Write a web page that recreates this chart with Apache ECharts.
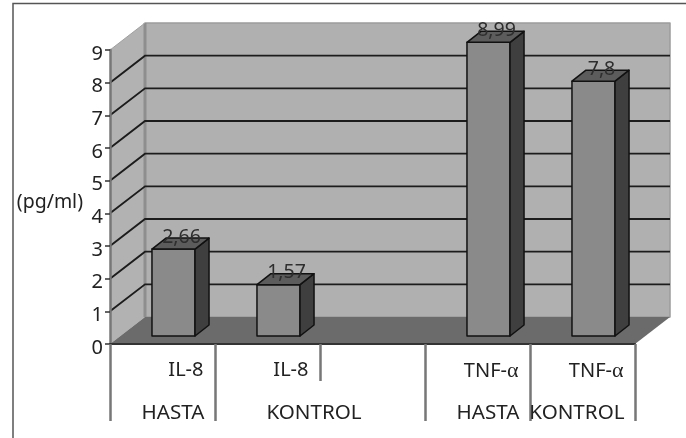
<!DOCTYPE html>
<html>
<head>
<meta charset="utf-8">
<style>
  html, body { margin: 0; padding: 0; background: #fff; }
  #main { width: 686px; height: 438px; }
</style>
<script src="https://cdn.jsdelivr.net/npm/echarts@6/dist/echarts.min.js"></script>
</head>
<body>
<div id="main"></div>
<script>
// chart data
var markers = ['IL-8', 'IL-8', '', 'TNF-α', 'TNF-α'];
var groups = ['HASTA', 'KONTROL', '', 'HASTA', 'KONTROL'];
var values = [2.66, 1.57, null, 8.99, 7.8];
var yTicks = [1, 2, 3, 4, 5, 6, 7, 8];

var FONT = '"Noto Sans"';
var TEXT = '#222';
// fake 3d depth of the walls and of the bars
var WALL = [35, -27];
var BAR = [14, -11];
var BAR_SHIFT = [11, -8];

var myChart = echarts.init(document.getElementById('main'));

function poly(points, fill, stroke, lineWidth) {
    return {
        type: 'polygon',
        shape: { points: points },
        style: { fill: fill, stroke: stroke || null, lineWidth: lineWidth || 0, lineJoin: 'round' }
    };
}

function renderWalls(params, api) {
    var cs = params.coordSys;
    var l = cs.x, t = cs.y, r = cs.x + cs.width, b = cs.y + cs.height;
    var dx = WALL[0], dy = WALL[1];
    return {
        type: 'group',
        children: [
            poly([[l + dx, t + dy], [r + dx, t + dy], [r + dx, b + dy], [l + dx, b + dy]], '#b0b0b0', '#9c9c9c', 1.5),
            poly([[l, t], [l + dx, t + dy], [l + dx, b + dy], [l, b]], '#b2b2b2'),
            { type: 'line', shape: { x1: l + dx, y1: t + dy, x2: l + dx, y2: b + dy }, style: { stroke: '#8e8e8e', lineWidth: 3 } },
            { type: 'line', shape: { x1: l, y1: t, x2: l + dx, y2: t + dy }, style: { stroke: '#a0a0a0', lineWidth: 1 } },
            poly([[l, b], [l + dx, b + dy], [r + dx, b + dy], [r, b]], '#6b6b6b')
        ]
    };
}

function renderGridLine(params, api) {
    var cs = params.coordSys;
    var y = api.coord([0, api.value(0)])[1];
    var l = cs.x, r = cs.x + cs.width;
    return {
        type: 'polyline',
        shape: { points: [[l, y], [l + WALL[0], y + WALL[1]], [r + WALL[0], y + WALL[1]]] },
        style: { fill: null, stroke: '#1c1c1c', lineWidth: 1.9 }
    };
}

function renderBar(params, api) {
    var v = api.value(1);
    if (isNaN(v)) return;
    var top = api.coord([api.value(0), v]);
    var base = api.coord([api.value(0), 0]);
    var halfW = api.size([1, 0])[0] * 0.205;
    var x1 = top[0] + BAR_SHIFT[0] - halfW, x2 = top[0] + BAR_SHIFT[0] + halfW;
    var y1 = top[1] + BAR_SHIFT[1], y2 = base[1] + BAR_SHIFT[1];
    var dx = BAR[0], dy = BAR[1];
    var edge = '#111';
    return {
        type: 'group',
        children: [
            poly([[x1, y1], [x2, y1], [x2, y2], [x1, y2]], '#8a8a8a', edge, 1.5),
            poly([[x2, y1], [x2 + dx, y1 + dy], [x2 + dx, y2 + dy], [x2, y2]], '#3f3f3f', edge, 1.5),
            poly([[x1, y1], [x1 + dx, y1 + dy], [x2 + dx, y1 + dy], [x2, y1]], '#5c5c5c', edge, 1.5),
            {
                type: 'text',
                style: {
                    text: String(v).replace('.', ','),
                    x: (x1 + x2) / 2 + dx / 2 + 1,
                    y: y1 + dy - 1,
                    align: 'center',
                    verticalAlign: 'middle',
                    font: '19.5px ' + FONT,
                    fill: '#2e2e2e'
                }
            }
        ]
    };
}

var labelBase = {
    interval: 0,
    hideOverlap: false,
    align: 'right',
    fontFamily: FONT,
    fontSize: 20,
    color: TEXT
};

myChart.setOption({
    backgroundColor: '#fff',
    animation: false,
    graphic: [
        { type: 'polyline', z: 100, shape: { points: [[13, 438], [13, 3.5], [686, 3.5]] }, style: { fill: null, stroke: '#555', lineWidth: 1.5 } }
    ],
    grid: { left: 110, right: 51, top: 50, bottom: 94 },
    xAxis: [
        {
            type: 'category',
            data: markers,
            z: 6,
            axisLine: { show: true, lineStyle: { color: '#333', width: 2 } },
            axisTick: { show: true, length: 37, lineStyle: { color: '#777', width: 2.5 } },
            axisLabel: Object.assign({}, labelBase, {
                margin: 16,
                padding: [0, -41, 0, 0],
                formatter: function (t) { return t.replace('α', '{g|α}'); },
                rich: { g: { fontFamily: '"Liberation Serif"', fontSize: 22, color: TEXT } }
            })
        },
        {
            type: 'category',
            position: 'bottom',
            offset: 37,
            data: groups.map(function (t, i) {
                // the second KONTROL spans two bands
                return i === 1 ? { value: t, textStyle: { padding: [0, -93, 0, 0] } } : t;
            }),
            axisLine: { show: false },
            axisTick: {
                show: true,
                length: 40,
                interval: function (i) { return i !== 2; },
                lineStyle: { color: '#777', width: 2.5 }
            },
            axisLabel: Object.assign({}, labelBase, { margin: 22, fontSize: 20.6, padding: [0, -42, 0, 0] })
        }
    ],
    yAxis: {
        type: 'value',
        min: 0,
        max: 9,
        interval: 1,
        name: '(pg/ml)',
        nameLocation: 'middle',
        nameRotate: 0,
        nameGap: 27,
        nameMoveOverlap: false,
        nameTextStyle: { fontFamily: FONT, fontSize: 19.5, color: TEXT, verticalAlign: 'top', lineHeight: 10 },
        z: 6,
        axisLine: { show: true, lineStyle: { color: '#777', width: 2.5 } },
        axisTick: { show: true, length: 5, lineStyle: { color: '#333', width: 1.5 } },
        axisLabel: { margin: 7, fontFamily: FONT, fontSize: 20, color: TEXT, verticalAlign: 'top', lineHeight: 8 },
        splitLine: { show: false }
    },
    series: [
        { type: 'custom', z: 1, coordinateSystem: 'cartesian2d', data: [[0, 0]], silent: true, renderItem: renderWalls },
        { type: 'custom', z: 2, coordinateSystem: 'cartesian2d', data: yTicks.map(function (v) { return [v]; }), encode: { y: 0 }, silent: true, renderItem: renderGridLine },
        {
            type: 'custom',
            z: 3,
            coordinateSystem: 'cartesian2d',
            data: values.map(function (v, i) { return [i, v]; }),
            encode: { x: 0, y: 1 },
            renderItem: renderBar
        }
    ]
});
</script>
</body>
</html>
